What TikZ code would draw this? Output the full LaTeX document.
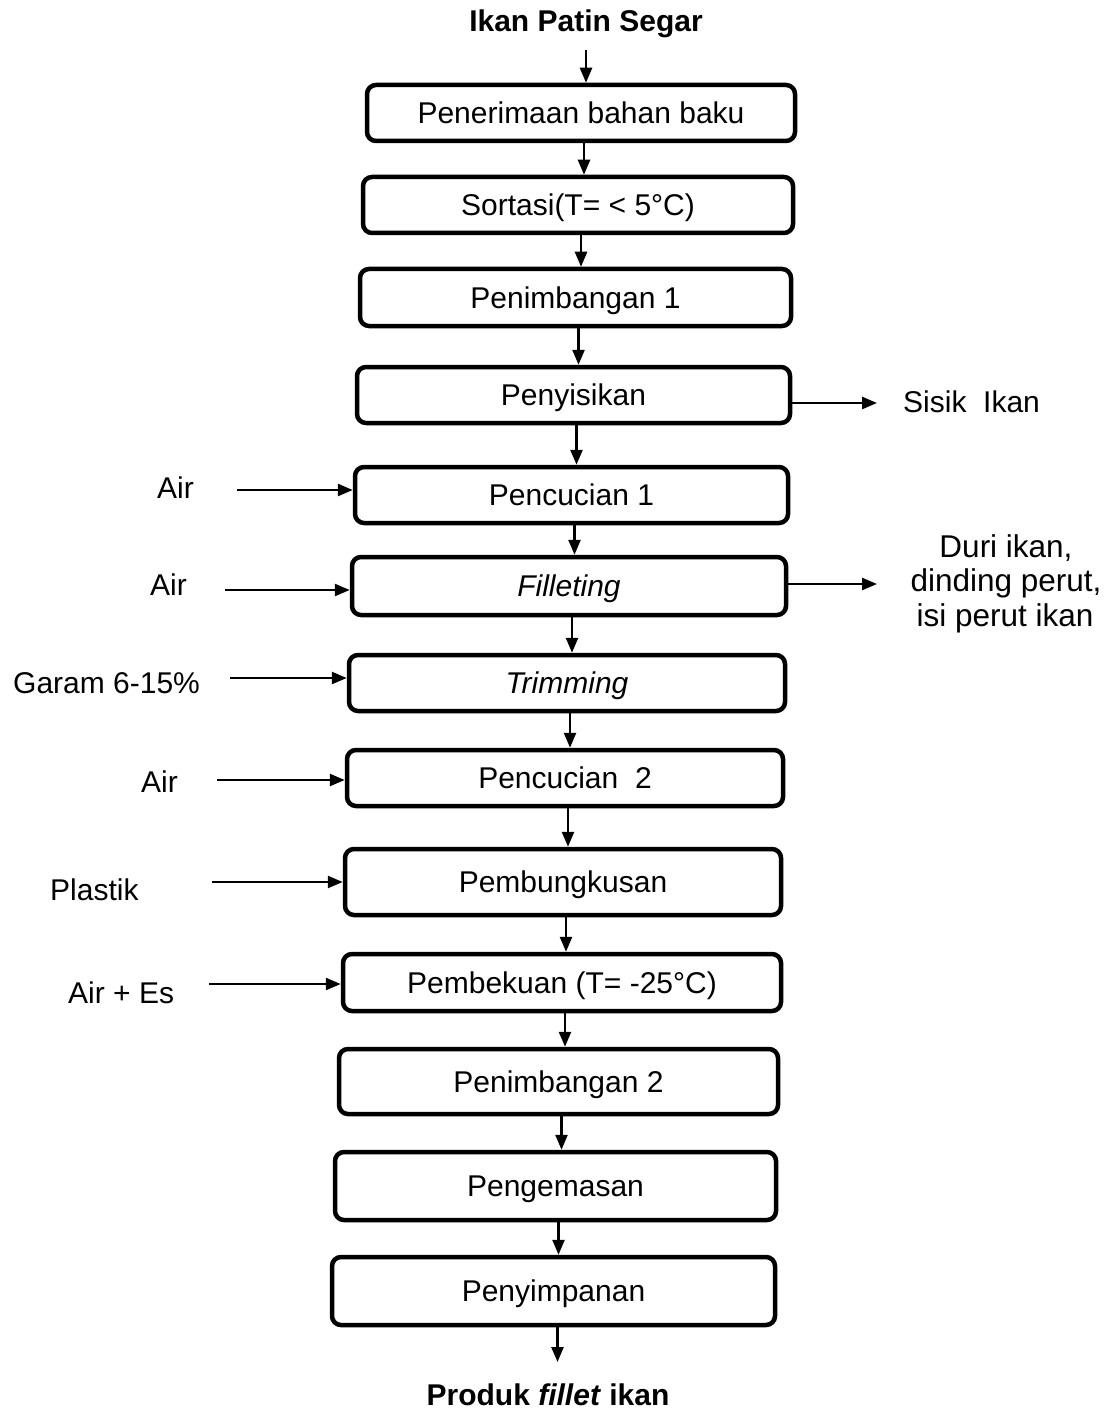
\documentclass[tikz,border=0pt]{standalone}
\usepackage{fontspec}
\setmainfont{Liberation Sans}
\usetikzlibrary{arrows.meta,calc}
\begin{document}
\begin{tikzpicture}[x=1pt,y=-1pt,
  every node/.style={font=\fontsize{30}{36}\selectfont},
  pbox/.style={draw, line width=4.5pt, rounded corners=9pt, inner sep=0pt, text height=21.5pt, text depth=0pt},
  arr/.style={line width=2.5pt, -{Triangle[length=15pt,width=12pt]}},
  lbl/.style={inner sep=0pt, anchor=base west},
  clbl/.style={inner sep=0pt, anchor=base, font=\fontsize{31.5}{36}\selectfont},
  endlbl/.style={font=\fontsize{30}{36}\selectfont\bfseries, inner sep=0pt, text height=21.5pt, text depth=0pt, anchor=base}]
\useasboundingbox (0,0) rectangle (1105,1412);

% process boxes
\node[pbox, minimum width=428pt, minimum height=56pt] (b1) at (581,113) {Penerimaan bahan baku};
\node[pbox, minimum width=430pt, minimum height=56pt] (b2) at (578,205) {Sortasi(T= < 5°C)};
\node[pbox, minimum width=431pt, minimum height=57pt] (b3) at (575.5,297.5) {Penimbangan 1};
\node[pbox, minimum width=433pt, minimum height=56pt] (b4) at (573.5,395) {Penyisikan};
\node[pbox, minimum width=433pt, minimum height=56pt] (b5) at (571.5,495) {Pencucian 1};
\node[pbox, minimum width=434pt, minimum height=58pt] (b6) at (569,586) {\itshape Filleting};
\node[pbox, minimum width=436pt, minimum height=56pt] (b7) at (567,683) {\itshape Trimming};
\node[pbox, minimum width=436pt, minimum height=56pt] (b8) at (565,778) {Pencucian\ \ 2};
\node[pbox, minimum width=436pt, minimum height=66pt] (b9) at (563,882) {Pembungkusan};
\node[pbox, minimum width=438pt, minimum height=57pt] (b10) at (562,982.5) {Pembekuan (T= -25°C)};
\node[pbox, minimum width=439pt, minimum height=65pt] (b11) at (558.5,1081.5) {Penimbangan 2};
\node[pbox, minimum width=441pt, minimum height=68pt] (b12) at (555.5,1186) {Pengemasan};
\node[pbox, minimum width=443pt, minimum height=68pt] (b13) at (553.5,1291) {Penyimpanan};

% start and end
\node[endlbl, outer ysep=18pt] (title) at (586,32) {Ikan Patin Segar};
\node[endlbl, outer ysep=21.5pt] (prod) at (548,1405) {Produk \textit{fillet} ikan};
\draw[arr] (title.south) -- (title.south |- b1.north);
\draw[arr] ([xshift=4pt]b13.south) -- ([xshift=4pt]b13.south |- prod.north);

% vertical flow
\foreach \a/\b in {b1/b2,b2/b3,b3/b4,b4/b5,b5/b6,b6/b7,b7/b8,b8/b9,b9/b10,b10/b11,b11/b12,b12/b13}
  \draw[arr] ([xshift=3pt]\a.south) -- ([xshift=3pt]\a.south |- \b.north);

% inputs
\node[lbl] (inA) at (157,498) {Air};
\node[lbl] (inB) at (150,595) {Air};
\node[lbl] (inC) at (13,693) {Garam 6-15\%};
\node[lbl] (inD) at (141,792) {Air};
\node[lbl] (inE) at (50,900) {Plastik};
\node[lbl] (inF) at (68,1003) {Air + Es};
\coordinate (sA) at (237,490);
\coordinate (sB) at (225,590);
\coordinate (sC) at (230,678);
\coordinate (sD) at (217,780);
\coordinate (sE) at (212,882);
\coordinate (sF) at (209,984);
\draw[arr] (sA) -- (sA -| b5.west);
\draw[arr] (sB) -- (sB -| b6.west);
\draw[arr] (sC) -- (sC -| b7.west);
\draw[arr] (sD) -- (sD -| b8.west);
\draw[arr] (sE) -- (sE -| b9.west);
\draw[arr] (sF) -- (sF -| b10.west);

% outputs
\coordinate (eA) at (877,403);
\coordinate (eB) at (877,584);
\draw[arr] (b4.east |- eA) -- (eA);
\draw[arr] (b6.east |- eB) -- (eB);
\node[lbl] (outA) at (903,412) {Sisik\ \ Ikan};
\node[clbl] (outB1) at (1006,557) {Duri ikan,};
\node[clbl] (outB2) at (1006,591) {dinding perut,};
\node[clbl] (outB3) at (1005,626) {isi perut ikan};
\end{tikzpicture}
\end{document}
